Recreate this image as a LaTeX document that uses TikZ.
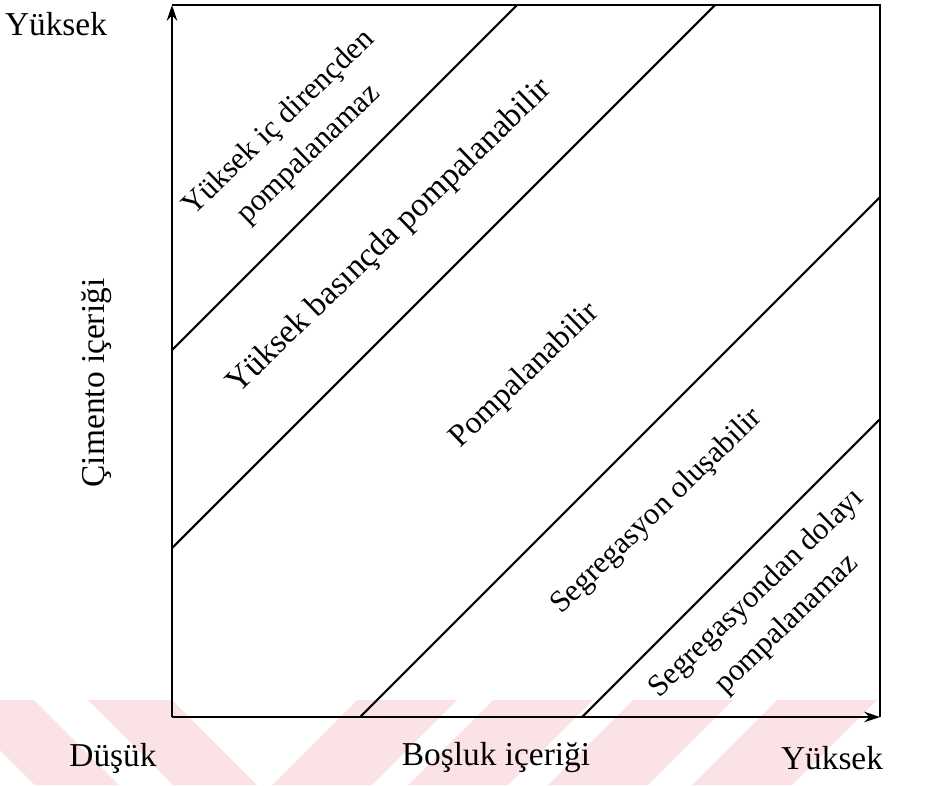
\documentclass[tikz,border=0pt]{standalone}
\usepackage{fontspec}
\setmainfont{Liberation Serif}
\usetikzlibrary{arrows.meta}
\definecolor{wmpink}{RGB}{251,226,228}
\begin{document}
\begin{tikzpicture}[x=0.02cm,y=-0.02cm,
  every node/.style={font=\fontsize{19}{25}\selectfont},
  zone/.style={rotate=44,align=center},
  small/.style={font=\fontsize{17.5}{24.5}\selectfont},
  axis/.style={line width=1.3pt,-{Stealth[length=9pt,width=6pt]}}]
\useasboundingbox (0,0) rectangle (936,785);
\begin{scope}
\clip (0,700) rectangle (880,785);
\foreach \s in {-190,-50,88} \fill[wmpink] (\s,700) -- ++(84,0) -- ++(85,85) -- ++(-84,0) -- cycle;
\foreach \s in {357,493,633,777} \fill[wmpink] (\s,700) -- ++(100,0) -- ++(-85,85) -- ++(-100,0) -- cycle;
\end{scope}
\coordinate (O) at (172,717);
\coordinate (T) at (172,5);
\coordinate (R) at (880,717);
\coordinate (C) at (880,5);
\draw[axis] (O) -- (T);
\draw[axis] (O) -- (R);
\draw[line width=1.3pt] (T) -- (C) -- (R);
\draw[line width=1.2pt] (172,350) -- (517,5);
\draw[line width=1.2pt] (172,548) -- (715,5);
\draw[line width=1.2pt] (360,717) -- (880,197);
\draw[line width=1.2pt] (582,717) -- (880,419);
\node (ymax) at (56,24) {Yüksek};
\node[rotate=90] (yaxis) at (97,383) {Çimento içeriği};
\node (xmin) at (113,758) {Düşük};
\node (xaxis) at (496,758) {Boşluk içeriği};
\node (xmax) at (832,758) {Yüksek};
\node[zone,small] (z1) at (294,139) {Yüksek iç dirençden\\pompalanamaz};
\node[zone] (z2) at (390,237) {Yüksek basınçda pompalanabilir};
\node[zone,font=\fontsize{18}{24}\selectfont] (z3) at (525,376) {Pompalanabilir};
\node[zone,small] (z4) at (657,512) {Segregasyon oluşabilir};
\node[zone,small] (z5) at (772,609) {Segregasyondan dolayı\\pompalanamaz};
\end{tikzpicture}
\end{document}
